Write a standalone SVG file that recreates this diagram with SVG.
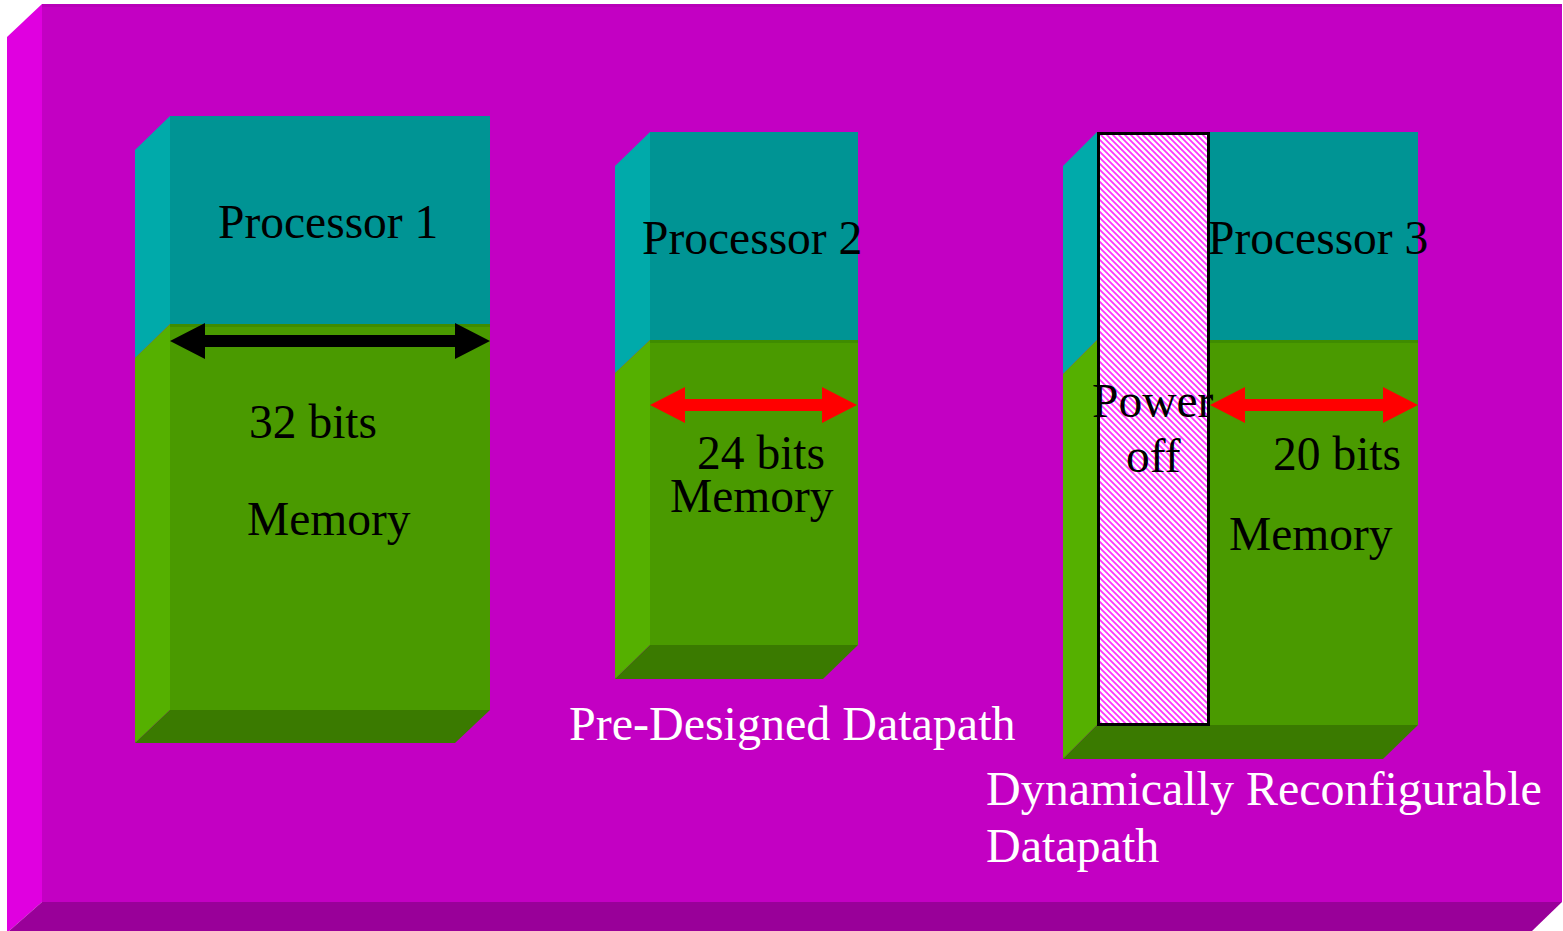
<svg xmlns="http://www.w3.org/2000/svg" width="1563" height="931" viewBox="0 0 1563 931">
  <style>
    .bg-front { fill: #c300c3; }
    .bg-left { fill: #e000e0; }
    .bg-bottom { fill: #990099; }
    .teal-front { fill: #009494; }
    .teal-left { fill: #00aaaa; }
    .green-front { fill: #4a9a00; }
    .green-left { fill: #55b000; }
    .green-bottom { fill: #3a7a00; }
    .seam { fill: #3f8c00; }
    .label { font-family: "Liberation Serif", "Times New Roman", serif; font-size: 47.5px; fill: #000; }
    .caption { font-family: "Liberation Serif", "Times New Roman", serif; font-size: 48px; fill: #fff; }
    .arrow-black { fill: #000; }
    .arrow-red { fill: #ff0000; }
  </style>
  <defs>
    <pattern id="hatch" width="6" height="6" patternUnits="userSpaceOnUse">
      <rect width="6" height="6" fill="#ffffff"/>
      <path d="M-1,-1 L7,7 M-4,2 L2,8 M4,-2 L10,4" stroke="#ff33ff" stroke-width="1.8"/>
    </pattern>
  </defs>

  <!-- bevelled backdrop -->
  <g id="backdrop">
    <rect width="1563" height="931" fill="#ffffff"/>
    <polygon class="bg-left" points="7,37 42,4 42,902 9,931 7,931"/>
    <rect class="bg-front" x="42" y="4" width="1520" height="898"/>
    <rect x="42" y="4" width="1520" height="3" fill="#b800b8"/>
    <polygon class="bg-bottom" points="42,902 1562,902 1532,931 9,931"/>
  </g>

  <!-- Processor 1 block -->
  <g id="processor1">
    <polygon class="teal-left" points="135,150 170,116 170,324 135,358"/>
    <polygon class="green-left" points="135,358 170,324 170,710 135,743"/>
    <rect class="teal-front" x="170" y="116" width="320" height="208"/>
    <rect class="green-front" x="170" y="324" width="320" height="386"/>
    <rect class="seam" x="170" y="324" width="320" height="3"/>
    <polygon class="green-bottom" points="170,710 490,710 455,743 135,743"/>
    <text class="label" x="218" y="238">Processor 1</text>
    <text class="label" x="249" y="438">32 bits</text>
    <text class="label" x="247" y="535">Memory</text>
  </g>

  <!-- Processor 2 block -->
  <g id="processor2">
    <polygon class="teal-left" points="615,166 650,132 650,340 615,373"/>
    <polygon class="green-left" points="615,373 650,340 650,645 615,679"/>
    <rect class="teal-front" x="650" y="132" width="208" height="208"/>
    <rect class="green-front" x="650" y="340" width="208" height="305"/>
    <rect class="seam" x="650" y="340" width="208" height="3"/>
    <polygon class="green-bottom" points="650,645 858,645 823,679 615,679"/>
    <text class="label" x="642" y="254">Processor 2</text>
    <text class="label" x="697" y="469">24 bits</text>
    <text class="label" x="670" y="512">Memory</text>
    <text class="caption" x="569" y="740">Pre-Designed Datapath</text>
  </g>

  <!-- Processor 3 block -->
  <g id="processor3">
    <polygon class="teal-left" points="1063,166 1097,132 1097,340 1063,374"/>
    <polygon class="green-left" points="1063,374 1097,340 1097,725 1063,759"/>
    <rect class="teal-front" x="1097" y="132" width="321" height="208"/>
    <rect class="green-front" x="1097" y="340" width="321" height="385"/>
    <rect class="seam" x="1097" y="340" width="321" height="3"/>
    <polygon class="green-bottom" points="1097,725 1418,725 1383,759 1063,759"/>
    <text class="label" x="1208" y="254">Processor 3</text>
    <text class="label" x="1273" y="470">20 bits</text>
    <text class="label" x="1229" y="550">Memory</text>
    <text class="caption" x="986" y="805">Dynamically Reconfigurable</text>
    <text class="caption" x="986" y="862">Datapath</text>
  </g>

  <!-- powered-down slice -->
  <g id="power-off">
    <rect x="1098.5" y="133.5" width="110" height="591" fill="url(#hatch)" stroke="#000" stroke-width="3"/>
    <text class="label" x="1092" y="417">Power</text>
    <text class="label" x="1126" y="472">off</text>
  </g>

  <!-- width arrows -->
  <g id="connectors">
    <polygon class="arrow-black" points="170,341 205,323 205,335 455,335 455,323 490,341 455,359 455,347 205,347 205,359"/>
    <polygon class="arrow-red" points="650,405 685,387 685,399 822,399 822,387 857,405 822,423 822,411 685,411 685,423"/>
    <polygon class="arrow-red" points="1210,405 1245,387 1245,399 1383,399 1383,387 1418,405 1383,423 1383,411 1245,411 1245,423"/>
  </g>
</svg>
